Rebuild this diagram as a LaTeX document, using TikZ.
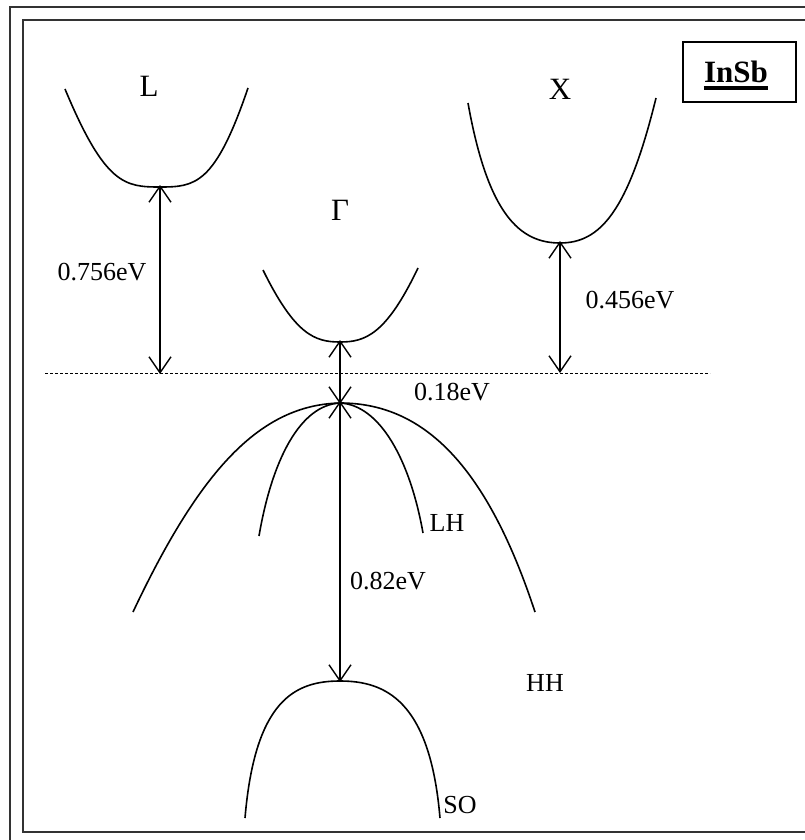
\documentclass[tikz,border=0pt]{standalone}
\usepackage{fontspec}
\setmainfont{Liberation Serif}
\usetikzlibrary{arrows.meta}
\begin{document}
\begin{tikzpicture}[x=1pt,y=-1pt,
  band/.style={line width=1.6pt, black},
  gap/.style={line width=1.4pt, {Straight Barb[length=16pt,width=22pt,line width=1.4pt]}-{Straight Barb[length=16pt,width=22pt,line width=1.4pt]}},
  lbl/.style={font=\fontsize{26}{30}\selectfont, inner sep=0pt},
  big/.style={font=\fontsize{31}{34}\selectfont, inner sep=0pt},
  frame/.style={line width=1.8pt, draw=black!80}]
\clip (0,0) rectangle (805,840);
\fill[white] (0,0) rectangle (805,840);
% frames
\draw[frame] (10,7) rectangle (830,870);
\draw[frame] (23,20) rectangle (818,832);
% InSb box
\node[draw, line width=1.6pt, minimum width=113pt, minimum height=60pt, inner sep=0pt] (box) at (739.5,72) {};
\node[font=\fontsize{31}{34}\selectfont\bfseries, inner sep=0pt, anchor=base] (insb) at (736,83) {InSb};
\draw[line width=3.5pt] ([yshift=-5pt]insb.base west) -- ([yshift=-5pt]insb.base east);
% key points
\coordinate (Lmin) at (160,187);
\coordinate (Xmin) at (560,243);
\coordinate (Gmin) at (340,342);
\coordinate (VBtop) at (340,403);
\coordinate (SOtop) at (340,681);
\coordinate (dl) at (45,373);
\coordinate (dr) at (710,373);
\coordinate (dL) at (160,374);
\coordinate (dX) at (560,373);
% dashed reference line
\draw[line width=0.8pt, dash pattern=on 3pt off 2pt] (dl) -- (dr);
% L valley
\draw[band] (65,89) .. controls (105,185) and (125,187) .. (Lmin)
            .. controls (195,187) and (215,185) .. (248,88);
% X valley
\draw[band] (468,103) .. controls (488,215) and (520,243) .. (Xmin)
            .. controls (600,243) and (628,212) .. (656,98);
% Gamma conduction
\draw[band] (263,270) .. controls (295,335) and (315,342) .. (Gmin)
            .. controls (365,342) and (386,335) .. (418,268);
% HH
\draw[band] (133,612) .. controls (200,470) and (260,405) .. (VBtop)
            .. controls (420,403) and (485,460) .. (535,612);
% LH
\draw[band] (259,536) .. controls (272,460) and (300,405) .. (VBtop)
            .. controls (380,405) and (410,460) .. (423,533);
% SO
\draw[band] (245,818) .. controls (255,700) and (295,681) .. (SOtop)
            .. controls (385,681) and (430,700) .. (440,818);
% gap arrows
\draw[gap] ([yshift=2pt]Lmin) -- (dL);
\draw[gap] ([yshift=2pt]Xmin) -- (dX);
\draw[gap] ([yshift=2pt]Gmin) -- ([yshift=-1pt]VBtop);
\draw[gap] ([yshift=2pt]VBtop) -- ([yshift=-1pt]SOtop);
% labels
\node[big] (tL) at (149,86) {L};
\node[big] (tX) at (560,89) {X};
\node[big] (tG) at (340,210) {Γ};
\node[lbl] (e1) at (102,272) {0.756eV};
\node[lbl] (e2) at (630,300) {0.456eV};
\node[lbl] (e3) at (452,392) {0.18eV};
\node[lbl] (e4) at (388,581) {0.82eV};
\node[lbl] (tLH) at (447,523) {LH};
\node[lbl] (tHH) at (545,683) {HH};
\node[lbl] (tSO) at (460,805) {SO};
\end{tikzpicture}
\end{document}
